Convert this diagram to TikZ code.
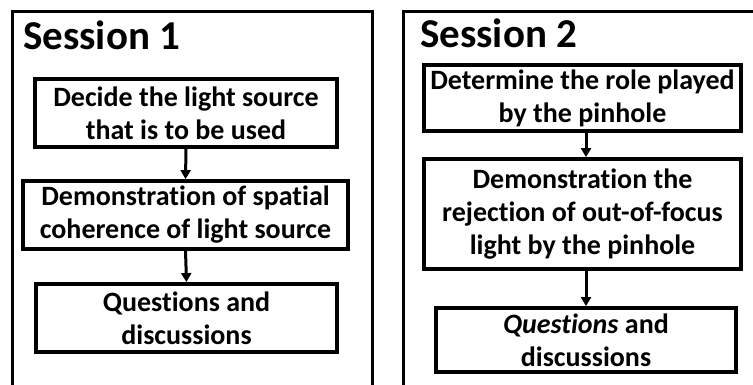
\documentclass[tikz,border=0pt]{standalone}
\usepackage{fontspec}
\setmainfont{Carlito}[Ligatures=NoCommon]
\usetikzlibrary{arrows.meta}

\tikzset{
  frame/.style={line width=3pt},
  stage/.style={draw,line width=3.8pt,align=center,inner sep=0pt,
    font=\bfseries\fontsize{28}{33}\selectfont},
  heading/.style={anchor=base west,inner sep=0pt,
    font=\bfseries\fontsize{41}{46}\selectfont},
  flow/.style={line width=3pt,-{Triangle[length=9pt,width=10pt]}}
}

\begin{document}
\begin{tikzpicture}[x=1pt,y=-1pt]
\useasboundingbox (0,0) rectangle (753,385);
\clip (0,0) rectangle (753,385);
% open frames of the two sessions
\draw[frame] (12,390)--(12,12)--(372,12)--(372,390);
\draw[frame] (403,390)--(403,12)--(760,12);
% session 1
\node[heading] (t1) at (23,50) {Session 1};
\node[stage,minimum width=302,minimum height=68] (a1) at (186,113)
  {Decide the light source\\that is to be used};
\node[stage,minimum width=325,minimum height=68] (a2) at (185.5,215)
  {Demonstration of spatial\\coherence of light source};
\node[stage,minimum width=301,minimum height=68] (a3) at (186.5,318)
  {Questions and\\discussions};
\draw[flow] (a1.south)--(a2.north);
\draw[flow] (a2.south)--(a3.north);
% session 2
\node[heading] (t2) at (420,48) {Session 2};
\node[stage,minimum width=317,minimum height=66] (b1) at (582.5,98)
  {Determine the role played\\by the pinhole};
\node[stage,minimum width=317,minimum height=110] (b2) at (582.5,214)
  {Demonstration the\\rejection of out-of-focus\\light by the pinhole};
\node[stage,minimum width=300,minimum height=64] (b3) at (586,340)
  {\textit{Questions} and\\discussions};
\draw[flow] (b1.south -| b3.north)--(b2.north -| b3.north);
\draw[flow] (b2.south -| b3.north)--(b3.north);
\end{tikzpicture}
\end{document}
